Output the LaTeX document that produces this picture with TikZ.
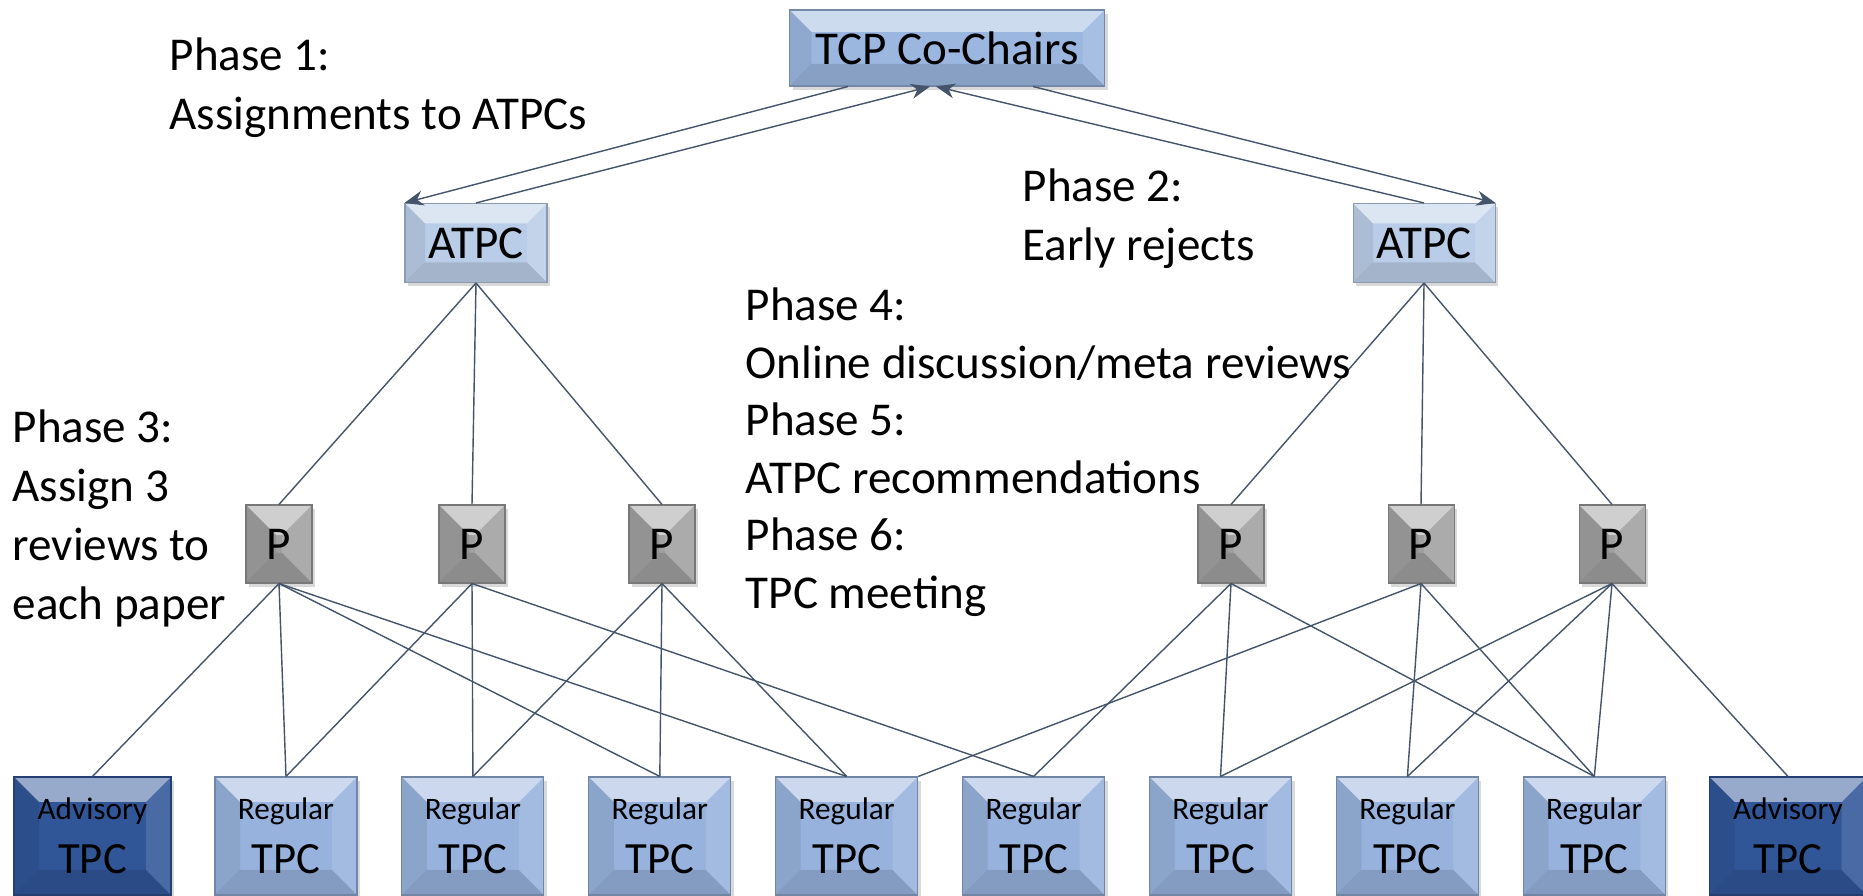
\documentclass[tikz,border=0pt]{standalone}
\usepackage{fontspec}
\setmainfont{Carlito}
\usetikzlibrary{arrows.meta,shadows}

\definecolor{chairblue}{RGB}{155,183,224}
\definecolor{atpcblue}{RGB}{186,205,232}
\definecolor{regblue}{RGB}{151,178,220}
\definecolor{advblue}{RGB}{48,86,152}
\definecolor{papergray}{RGB}{160,160,160}
\definecolor{linkgray}{RGB}{68,84,106}

\newcommand{\tpclabel}[1]{{\fontsize{8.9}{10}\selectfont #1}\\[3.5pt]{\fontsize{12.7}{14}\selectfont TPC}}

\tikzset{
  bevel/.style={path picture={
    \coordinate (bnw) at (path picture bounding box.north west);
    \coordinate (bne) at (path picture bounding box.north east);
    \coordinate (bsw) at (path picture bounding box.south west);
    \coordinate (bse) at (path picture bounding box.south east);
    \fill[white,opacity=.5] (bnw) -- (bne) -- ([shift={(-#1,-#1)}]bne) -- ([shift={(#1,-#1)}]bnw) -- cycle;
    \fill[black,opacity=.08] (bnw) -- ([shift={(#1,-#1)}]bnw) -- ([shift={(#1,#1)}]bsw) -- (bsw) -- cycle;
    \fill[black,opacity=.12] (bsw) -- ([shift={(#1,#1)}]bsw) -- ([shift={(-#1,#1)}]bse) -- (bse) -- cycle;
    \fill[white,opacity=.12] (bne) -- ([shift={(-#1,-#1)}]bne) -- ([shift={(-#1,#1)}]bse) -- (bse) -- cycle;
  }},
  box/.style={fill=#1, draw=#1!75!black, line width=.3pt, inner sep=0pt,
    drop shadow={shadow xshift=.03cm, shadow yshift=-.04cm, opacity=.3}},
  chairbox/.style={box=chairblue, bevel=.22, minimum width=3.15cm, minimum height=.76cm,
    font=\fontsize{13.4}{16}\selectfont},
  atpcbox/.style={box=atpcblue, bevel=.2, minimum width=1.42cm, minimum height=.79cm,
    font=\fontsize{13.4}{16}\selectfont},
  paperbox/.style={box=papergray, bevel=.3, minimum width=.66cm, minimum height=.78cm,
    font=\fontsize{13.4}{16}\selectfont},
  tpcbox/.style={box=#1, bevel=.25, minimum height=1.18cm, align=center},
  phase/.style={anchor=north west, align=left, inner sep=0pt, font=\fontsize{13.4}{16.8}\selectfont},
  link/.style={draw=linkgray, line width=.4pt},
  arr/.style={link, -{Stealth[length=.19cm, width=.15cm, inset=.06cm]}}
}

\begin{document}
\begin{tikzpicture}
\useasboundingbox (0,0) rectangle (18.63,8.96);

% top of the tree
\node[chairbox] (chairs) at (9.47,8.48) {TCP Co-Chairs};
\node[atpcbox] (atpcL) at (4.76,6.53) {ATPC};
\node[atpcbox] (atpcR) at (14.24,6.53) {ATPC};

% papers
\foreach \n/\x in {p1/2.79, p2/4.72, p3/6.62, p4/12.31, p5/14.21, p6/16.12}
  \node[paperbox] (\n) at (\x,3.52) {P};

% reviewers
\node[tpcbox=advblue, minimum width=1.57cm] (adv1) at (0.925,0.60) {\tpclabel{Advisory}};
\foreach \i in {1,...,8}
  \node[tpcbox=regblue, minimum width=1.42cm] (r\i) at ({2.86+(\i-1)*1.869},0.60) {\tpclabel{Regular}};
\node[tpcbox=advblue, minimum width=1.57cm] (adv2) at (17.88,0.60) {\tpclabel{Advisory}};

% phases 1 and 2
\draw[arr] ([xshift=-.99cm]chairs.south) -- (atpcL.north west);
\draw[arr] (atpcL.north) -- ([xshift=-.17cm]chairs.south);
\draw[arr] ([xshift=.86cm]chairs.south) -- (atpcR.north east);
\draw[arr] (atpcR.north) -- ([xshift=-.11cm]chairs.south);

\foreach \p in {p1,p2,p3}
  \draw[link] (atpcL.south) -- (\p.north);
\foreach \p in {p4,p5,p6}
  \draw[link] (atpcR.south) -- (\p.north);

% review assignments
\foreach \p/\t in {p1/adv1, p1/r1, p1/r3, p1/r4, p2/r1, p2/r2, p2/r5, p3/r2, p3/r3, p3/r4,
                   p4/r5, p4/r6, p4/r8, p5/r7, p5/r8, p6/r6, p6/r7, p6/r8, p6/adv2}
  \draw[link] (\p.south) -- (\t.north);
\draw[link] (p5.south) -- (r4.north east);

\node[phase] (ph1) at (1.69,8.59) {Phase 1:\\Assignments to ATPCs};
\node[phase] (ph2) at (10.22,7.28) {Phase 2:\\Early rejects};
\node[phase] (ph3) at (0.12,4.87) {Phase 3:\\Assign 3\\reviews to\\each paper};
\node[phase, font=\fontsize{13.4}{16.4}\selectfont] (ph4) at (7.45,6.09)
  {Phase 4:\\Online discussion/meta reviews\\Phase 5:\\ATPC recommendations\\Phase 6:\\TPC meeting};
\end{tikzpicture}
\end{document}
